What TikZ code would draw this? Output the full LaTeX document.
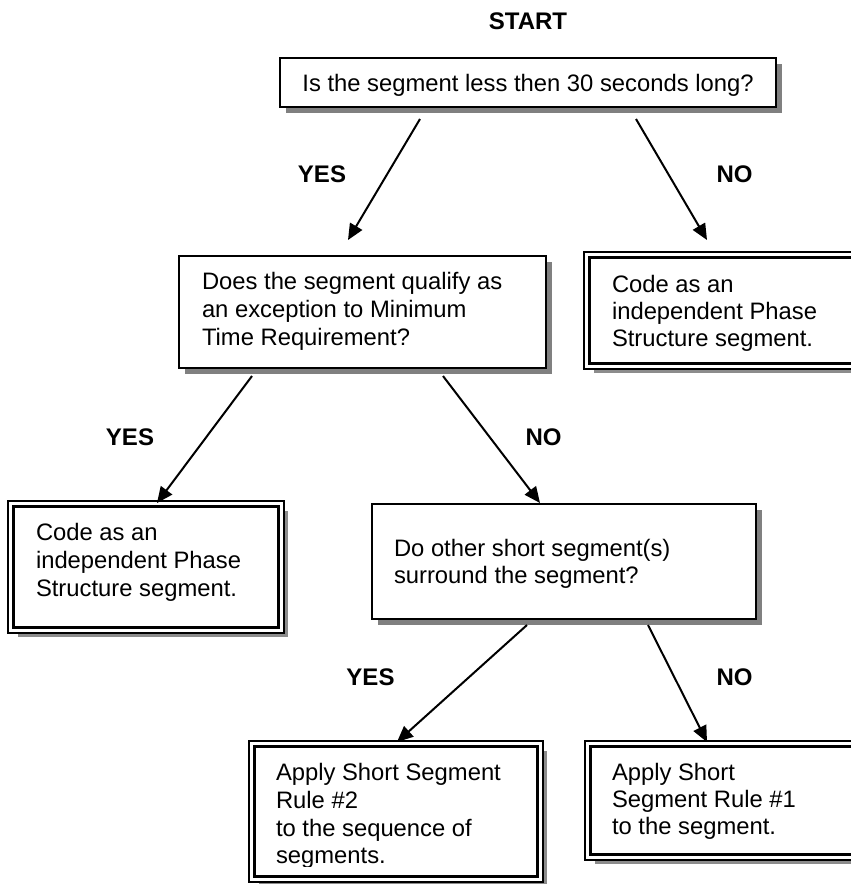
\documentclass[tikz,border=0pt]{standalone}
\usepackage{fontspec}
\setmainfont{Liberation Sans}
\usetikzlibrary{arrows.meta,shadows}
\begin{document}
\begin{tikzpicture}[x=1pt,y=-1pt,
  every node/.style={inner sep=0pt,outer sep=0pt},
  body/.style={font=\fontsize{23.8}{28}\selectfont,anchor=base west},
  lbl/.style={font=\fontsize{24}{28}\selectfont\bfseries,anchor=base},
  sbox/.style={rectangle,draw,line width=2pt,fill=white,
    drop shadow={shadow xshift=6pt,shadow yshift=-6pt,opacity=1,fill=black!50}},
  dbox/.style={rectangle,draw,line width=2.6pt,double=white,double distance=3pt,fill=white,
    drop shadow={shadow xshift=7pt,shadow yshift=-7pt,opacity=1,fill=black!45}},
  arr/.style={line width=2pt,-{Triangle[length=16pt,width=14pt]}}]
\useasboundingbox (0,0) rectangle (851,884);
\clip (0,0) rectangle (851,884);

% question boxes (single border)
\node[sbox,minimum width=496pt,minimum height=49pt] (q1) at (528,82.5) {};
\node[sbox,minimum width=367pt,minimum height=112pt] (q2) at (362.5,312) {};
\node[sbox,minimum width=384pt,minimum height=115pt] (q3) at (564,561.5) {};

% outcome boxes (double border)
\node[dbox,minimum width=340.5pt,minimum height=111.5pt] (codeR) at (757,310.5) {};
\node[dbox,minimum width=270.5pt,minimum height=126.5pt] (codeL) at (146,567) {};
\node[dbox,minimum width=288.5pt,minimum height=135.5pt] (rule2) at (396,811.5) {};
\node[dbox,minimum width=339.5pt,minimum height=113.5pt] (rule1) at (757.5,800.5) {};

% texts
\node[lbl] (start) at (528,29) {START};
\node[body,anchor=base] (q1t) at (528,91) {Is the segment less then 30 seconds long?};

\node[body] (q2a) at (202,289) {Does the segment qualify as};
\node[body] (q2b) at (202,317) {an exception to Minimum};
\node[body] (q2c) at (202,345) {Time Requirement?};

\node[body] (q3a) at (394,556) {Do other short segment(s)};
\node[body] (q3b) at (394,583) {surround the segment?};

\node[body] (codeRa) at (612,292) {Code as an};
\node[body] (codeRb) at (612,319) {independent Phase};
\node[body] (codeRc) at (612,346) {Structure segment.};

\node[body] (codeLa) at (36,540) {Code as an};
\node[body] (codeLb) at (36,568) {independent Phase};
\node[body] (codeLc) at (36,596) {Structure segment.};

\begin{scope}
  \clip (250,700) rectangle (545,866);
  \node[body] (rule2a) at (276,780) {Apply Short Segment};
  \node[body] (rule2b) at (276,808) {Rule \#2};
  \node[body] (rule2c) at (276,836) {to the sequence of};
  \node[body] (rule2d) at (276,863) {segments.};
\end{scope}

\node[body] (rule1a) at (612,780) {Apply Short};
\node[body] (rule1b) at (612,807) {Segment Rule \#1};
\node[body] (rule1c) at (612,834) {to the segment.};

% branch labels
\node[lbl] (yes1) at (322,182) {YES};
\node[lbl] (no1) at (734.5,182) {NO};
\node[lbl] (yes2) at (130,445) {YES};
\node[lbl] (no2) at (543.5,445) {NO};
\node[lbl] (yes3) at (370.5,685) {YES};
\node[lbl] (no3) at (734.5,685) {NO};

% connector ends
\coordinate (q1y) at (420,119);  \coordinate (q2in) at (348,240);
\coordinate (q1n) at (636,119);  \coordinate (codeRin) at (707,240);
\coordinate (q2y) at (252,376);  \coordinate (codeLin) at (157,503);
\coordinate (q2n) at (443,376);  \coordinate (q3in) at (540,503);
\coordinate (q3y) at (527,625);  \coordinate (rule2in) at (397,742);
\coordinate (q3n) at (648,625);  \coordinate (rule1in) at (707,742);

\draw[arr] (q1y) -- (q2in);
\draw[arr] (q1n) -- (codeRin);
\draw[arr] (q2y) -- (codeLin);
\draw[arr] (q2n) -- (q3in);
\draw[arr] (q3y) -- (rule2in);
\draw[arr] (q3n) -- (rule1in);
\end{tikzpicture}
\end{document}
